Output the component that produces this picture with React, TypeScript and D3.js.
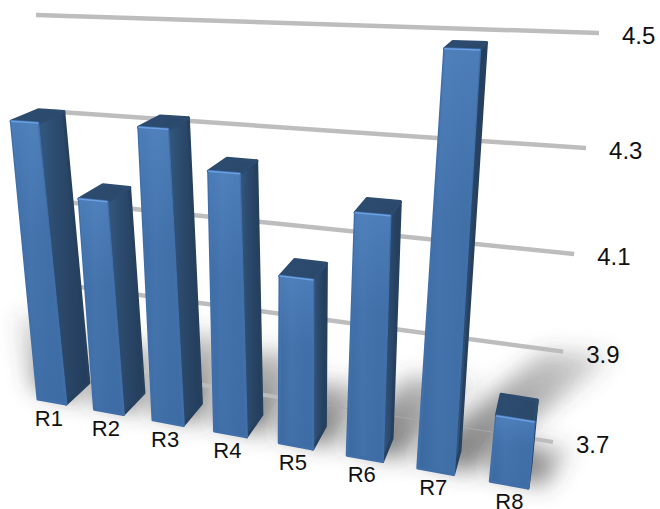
import React from "react";
import * as d3 from "d3";

// Chart data
const categories = ["R1", "R2", "R3", "R4", "R5", "R6", "R7", "R8"];
const values = [4.33, 4.18, 4.335, 4.26, 4.065, 4.205, 4.5, 3.84];
const gridTicks = [4.5, 4.3, 4.1, 3.9, 3.7];

type Pt = [number, number];
type Quad = [Pt, Pt, Pt, Pt];

// Camera set-up: the three planes of the scene as screen quads,
// ordered bottom-left, bottom-right, top-right, top-left.
const FRONT_PLANE: Quad = [[38, 399], [528, 488], [577, 53], [3, 35]];
const BACK_PLANE: Quad = [[62, 378], [531, 464], [579, 46], [31, 27]];
const WALL_PLANE: Quad = [[68, 363], [553, 442], [599, 33], [36, 15]];

// Maps the unit square onto a quad with a perspective transform.
function homography(q: Quad) {
  const [[x0, y0], [x1, y1], [x2, y2], [x3, y3]] = q;
  const dx1 = x1 - x2, dx2 = x3 - x2, dy1 = y1 - y2, dy2 = y3 - y2;
  const sx = x0 - x1 + x2 - x3, sy = y0 - y1 + y2 - y3;
  const den = dx1 * dy2 - dx2 * dy1;
  const g = (sx * dy2 - dx2 * sy) / den;
  const h = (dx1 * sy - sx * dy1) / den;
  const a = x1 - x0 + g * x1, b = x3 - x0 + h * x3;
  const d = y1 - y0 + g * y1, e = y3 - y0 + h * y3;
  return (u: number, t: number): Pt => {
    const w = g * u + h * t + 1;
    return [(a * u + b * t + x0) / w, (d * u + e * t + y0) / w];
  };
}

const front = homography(FRONT_PLANE);
const back = homography(BACK_PLANE);
const wall = homography(WALL_PLANE);

const valueScale = d3.scaleLinear().domain([3.7, 4.5]).range([0, 1]);
const band = d3.scaleBand<string>().domain(categories).range([0, 1]).paddingInner(0.5).paddingOuter(0);
// Eases the foreshortening along the row of bars.
const spread = d3.scaleLinear().domain([0, 0.1, 0.3, 0.75, 1]).range([0, 0.102, 0.303, 0.757, 1]);
// The prisms narrow a little toward the top.
const taper = d3.scaleLinear().domain([0, 1]).range([1, 0.82]);
// Horizontal nudge of the category labels below the bars.
const labelNudge = d3.scaleLinear().domain([0, 0.8, 1]).range([-3, -3, 1]);

// Cast-shadow direction fans out from the light above the middle of the chart.
const shadowDx = d3.scaleLinear().domain([0, 1]).range([-36, 175]);
const shadowDy = d3.scaleLinear().domain([0, 1]).range([-82, -100]);

const closed = d3.line().curve(d3.curveLinearClosed);

const FAINT_SPAN: [number, number] = [0.52, 0.9];

export default function App() {
  return (
    <svg
      width={660}
      height={509}
      style={{ position: "absolute", left: 0, top: 0, background: "#fff" }}
      fontFamily="'Liberation Sans', Arial, sans-serif"
    >
      <defs>
        <filter id="soft" x="-60%" y="-60%" width="220%" height="220%">
          <feGaussianBlur stdDeviation="11" />
        </filter>
        <linearGradient id="faceFront" x1="0" x2="1" y1="0" y2="0">
          <stop offset="0" stopColor="#3a69a0" />
          <stop offset="0.35" stopColor="#4271aa" />
          <stop offset="0.7" stopColor="#3e6da5" />
          <stop offset="1" stopColor="#3d6ca5" />
        </linearGradient>
        <linearGradient id="faceGlow" x1="0" x2="0" y1="0" y2="1">
          <stop offset="0" stopColor="#6ea2e0" stopOpacity="0.32" />
          <stop offset="0.4" stopColor="#6ea2e0" stopOpacity="0.06" />
          <stop offset="1" stopColor="#6ea2e0" stopOpacity="0" />
        </linearGradient>
        <linearGradient id="faceSide" x1="0" x2="1" y1="0" y2="0">
          <stop offset="0" stopColor="#335a82" />
          <stop offset="0.35" stopColor="#2c4b6e" />
          <stop offset="1" stopColor="#233c5a" />
        </linearGradient>
        <linearGradient id="faceTop" x1="0" x2="1" y1="0" y2="0.2">
          <stop offset="0" stopColor="#2c4d72" />
          <stop offset="1" stopColor="#2b4869" />
        </linearGradient>
      </defs>

      {/* Cast shadows on the floor */}
      <g>
        {categories.map((c, i) => {
          const u0 = spread(band(c)!);
          const u1 = spread(band(c)! + band.bandwidth());
          const h = valueScale(values[i]);
          const um = (u0 + u1) / 2;
          const dx = shadowDx(um) * h;
          const dy = shadowDy(um) * h;
          const a = back(u0, 0);
          const b = back(u1, 0);
          const f = front(u1, 0);
          const g = front(u0, 0);
          const poly: Pt[] = [
            [g[0] - 4, g[1] - 10],
            [a[0] + dx - 22, a[1] + dy + 4],
            [b[0] + dx + 14, b[1] + dy],
            [f[0] + 16, f[1] - 2],
          ];
          return (
            <g key={c}>
              <linearGradient
                id={`cast${i}`}
                gradientUnits="userSpaceOnUse"
                x1={b[0]}
                y1={b[1]}
                x2={b[0] + dx}
                y2={b[1] + dy}
              >
                <stop offset="0" stopColor="#444" stopOpacity="0.66" />
                <stop offset="1" stopColor="#444" stopOpacity="0.22" />
              </linearGradient>
              <path d={closed(poly)!} fill={`url(#cast${i})`} filter="url(#soft)" />
            </g>
          );
        })}
      </g>

      {/* Gridlines and value labels */}
      {gridTicks.map((v) => {
        const t = valueScale(v);
        const a = wall(0, t);
        const b = wall(1, t);
        const lowest = v === gridTicks[gridTicks.length - 1];
        return (
          <g key={v}>
            {lowest ? (
              <>
                <path
                  d={d3.line()([a, wall(FAINT_SPAN[0], t)])!}
                  stroke="#bdbdbd"
                  strokeWidth={4}
                  fill="none"
                />
                <path
                  d={d3.line()([wall(FAINT_SPAN[0], t), wall(FAINT_SPAN[1], t)])!}
                  stroke="#a9a9a9"
                  strokeWidth={1}
                  fill="none"
                />
                <path
                  d={d3.line()([wall(FAINT_SPAN[1], t), b])!}
                  stroke="#bdbdbd"
                  strokeWidth={4}
                  fill="none"
                />
              </>
            ) : (
              <path d={d3.line()([a, b])!} stroke="#bdbdbd" strokeWidth={4.5} fill="none" />
            )}
            <text x={b[0] + 23} y={b[1] + 11} fontSize={24} fill="#111">
              {d3.format(".1f")(v)}
            </text>
          </g>
        );
      })}

      {/* Bars, painted left to right */}
      {categories.map((c, i) => {
        const u0 = spread(band(c)!);
        const u1 = spread(band(c)! + band.bandwidth());
        const t = valueScale(values[i]);
        const uTop = u0 + (u1 - u0) * taper(t);
        const frontFace: Pt[] = [front(u0, 0), front(u1, 0), front(uTop, t), front(u0, t)];
        const sideFace: Pt[] = [front(u1, 0), back(u1, 0), back(uTop, t), front(uTop, t)];
        const topFace: Pt[] = [front(u0, t), front(uTop, t), back(uTop, t), back(u0, t)];
        const um = (u0 + u1) / 2;
        const base = front(um, 0);
        return (
          <g key={c} strokeLinejoin="round">
            <path d={closed(sideFace)!} fill="url(#faceSide)" stroke="#26405f" strokeWidth={3} />
            <path d={closed(topFace)!} fill="url(#faceTop)" stroke="#2c4b6e" strokeWidth={3.5} />
            <path d={closed(frontFace)!} fill="url(#faceFront)" stroke="#3f6ea8" strokeWidth={3} />
            <path d={closed(frontFace)!} fill="url(#faceGlow)" />
            <path
              d={d3.line()([front(u0, t), front(uTop, t)])!}
              stroke="#6a9fe2"
              strokeWidth={1.5}
              strokeLinecap="round"
              fill="none"
            />
            <text x={base[0] + labelNudge(um)} y={base[1] + 24} fontSize={22} fill="#111" textAnchor="middle">
              {c}
            </text>
          </g>
        );
      })}
    </svg>
  );
}
